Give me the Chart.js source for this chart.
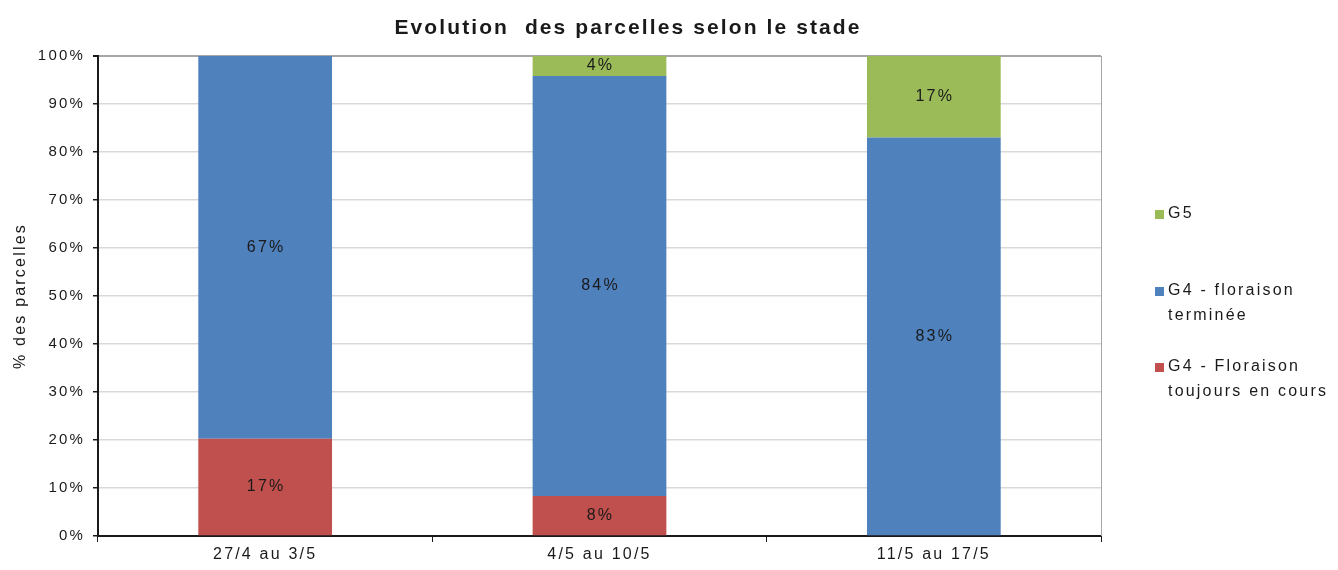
<!DOCTYPE html>
<html>
<head>
<meta charset="utf-8">
<style>
    html, body { margin: 0; padding: 0; background: #fff; }
    #wrap { width: 1338px; height: 570px; }
</style>
<script src="https://cdn.jsdelivr.net/npm/chart.js@4/dist/chart.umd.min.js"></script>
</head>
<body>
<div id="wrap"><canvas id="stadeChart"></canvas></div>
<script>
const PERIODS = ['27/4 au 3/5', '4/5 au 10/5', '11/5 au 17/5'];
const FLORAISON_EN_COURS = [17, 8, 0];
const FLORAISON_TERMINEE = [67, 84, 83];
const G5 = [0, 4, 17];
const Y_TICKS = [0, 10, 20, 30, 40, 50, 60, 70, 80, 90, 100];

const FONT = '"Liberation Sans", Arial, sans-serif';
const SPACING = '2.2px';

// Share of each series in the column total (100% stacked chart)
function toShare(series, all) {
    return series.map((v, i) => {
        const total = all.reduce((s, arr) => s + arr[i], 0);
        return total ? v / total * 100 : 0;
    });
}
const ALL = [FLORAISON_EN_COURS, FLORAISON_TERMINEE, G5];

const series = [
    { label: ['G4 - Floraison', 'toujours en cours'], raw: FLORAISON_EN_COURS, color: '#C0504D' },
    { label: ['G4 - floraison', 'terminée'], raw: FLORAISON_TERMINEE, color: '#4F81BD' },
    { label: ['G5'], raw: G5, color: '#9BBB59' }
];

// The source text is drawn wide, so widen letters on the whole canvas
const spacingPlugin = {
    id: 'spacing',
    beforeLayout(chart) { chart.ctx.letterSpacing = SPACING; },
    beforeDraw(chart) { chart.ctx.letterSpacing = SPACING; }
};

// Title, value labels, right border and legend
const decorPlugin = {
    id: 'decor',
    afterDatasetsDraw(chart) {
        const ctx = chart.ctx;
        const area = chart.chartArea;
        ctx.save();
        ctx.letterSpacing = SPACING;

        // right border of plot area
        ctx.strokeStyle = '#a6a6a6';
        ctx.lineWidth = 1;
        ctx.beginPath();
        ctx.moveTo(area.right + 0.5, area.top);
        ctx.lineTo(area.right + 0.5, area.bottom);
        ctx.stroke();

        // value labels
        ctx.font = '16px ' + FONT;
        ctx.fillStyle = '#1a1a1a';
        ctx.textAlign = 'center';
        ctx.textBaseline = 'middle';
        chart.data.datasets.forEach((ds, di) => {
            chart.getDatasetMeta(di).data.forEach((bar, i) => {
                const v = ds.raw[i];
                if (!v) return;
                ctx.fillText(v + '%', bar.x + 1, (bar.y + bar.base) / 2);
            });
        });

        // title
        ctx.letterSpacing = '2.1px';
        ctx.font = 'bold 21px ' + FONT;
        ctx.fillText('Evolution  des parcelles selon le stade', 628, 28);
        ctx.letterSpacing = SPACING;

        // legend, top item = top of stack
        const legendY = [214, 291, 367];
        ctx.font = '16px ' + FONT;
        ctx.textAlign = 'left';
        chart.data.datasets.slice().reverse().forEach((ds, k) => {
            const y = legendY[k];
            ctx.fillStyle = ds.backgroundColor;
            ctx.fillRect(1155, y - 4, 9, 9);
            ctx.fillStyle = '#1a1a1a';
            ds.label.forEach((line, j) => {
                ctx.fillText(line, 1168, y + j * 25);
            });
        });
        ctx.restore();
    }
};

new Chart(document.getElementById('stadeChart'), {
    type: 'bar',
    data: {
        labels: PERIODS,
        datasets: series.map(s => ({
            label: s.label,
            raw: s.raw,
            data: toShare(s.raw, ALL),
            backgroundColor: s.color,
            borderWidth: 0,
            categoryPercentage: 1,
            barPercentage: 0.4
        }))
    },
    options: {
        responsive: true,
        maintainAspectRatio: false,
        animation: false,
        layout: { padding: { top: 56, right: 237, left: 0, bottom: 0 } },
        plugins: {
            legend: { display: false },
            title: { display: false },
            tooltip: { enabled: false }
        },
        scales: {
            x: {
                stacked: true,
                afterFit: (scale) => { scale.height = 34; },
                border: { color: '#1a1a1a', width: 2 },
                grid: {
                    offset: true,
                    drawOnChartArea: false,
                    tickLength: 6,
                    tickColor: '#1a1a1a'
                },
                ticks: {
                    color: '#1a1a1a',
                    font: { family: FONT, size: 16 },
                    padding: 3
                }
            },
            y: {
                stacked: true,
                min: 0,
                max: 100,
                afterFit: (scale) => { scale.width = 98; },
                afterBuildTicks: (scale) => {
                    scale.ticks = Y_TICKS.map(v => ({ value: v }));
                },
                border: { color: '#1a1a1a', width: 2 },
                grid: {
                    color: (c) => c.tick && c.tick.value === 100 ? '#a6a6a6' : '#d9d9d9',
                    lineWidth: (c) => c.tick && c.tick.value === 100 ? 2 : 1.5,
                    tickLength: 5,
                    tickColor: '#1a1a1a'
                },
                ticks: {
                    color: '#1a1a1a',
                    font: { family: FONT, size: 15 },
                    padding: 8,
                    callback: (v) => v + '%'
                },
                title: {
                    display: true,
                    text: '% des parcelles',
                    color: '#1a1a1a',
                    font: { family: FONT, size: 16 },
                    padding: { top: 11, bottom: 0 }
                }
            }
        }
    },
    plugins: [spacingPlugin, decorPlugin]
});
</script>
</body>
</html>
